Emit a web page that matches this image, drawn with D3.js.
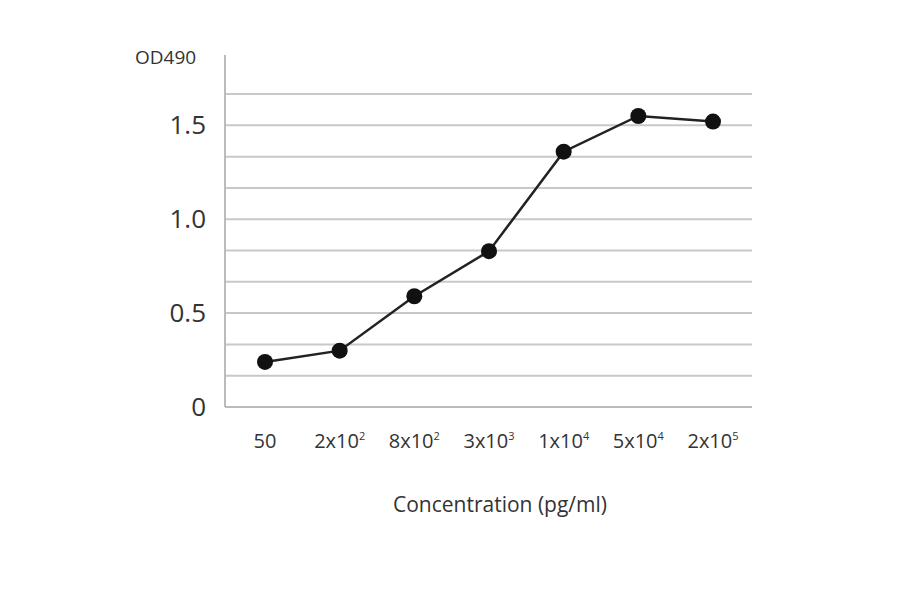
<!DOCTYPE html>
<html>
<head>
<meta charset="utf-8">
<script src="https://cdn.jsdelivr.net/npm/d3@7"></script>
<style>
  body { margin: 0; background: #fff; }
  text { font-family: "Liberation Sans Narrow", "Open Sans", "DejaVu Sans", sans-serif; fill: #333; }
</style>
</head>
<body>
<div id="chart"></div>
<script>
// data
var categories = [["50", ""], ["2x10", "2"], ["8x10", "2"], ["3x10", "3"], ["1x10", "4"], ["5x10", "4"], ["2x10", "5"]];
var od490 = [0.24, 0.30, 0.59, 0.83, 1.36, 1.55, 1.52];
var yTicks = [0, 0.5, 1.0, 1.5];

var svg = d3.select('#chart').append('svg')
    .attr('width', 900)
    .attr('height', 594);

var x = d3.scalePoint()
    .domain(d3.range(categories.length))
    .range([265, 713]);

var y = d3.scaleLinear()
    .domain([0, 1.667])
    .range([407, 94]);

// gridlines every 1/6
var grid = d3.range(1, 11).map(i => i / 6);
svg.selectAll('.grid')
    .data(grid)
    .enter()
    .append('line')
    .attr('x1', 225).attr('x2', 752)
    .attr('y1', d => y(d)).attr('y2', d => y(d))
    .attr('stroke', '#c8c8c8')
    .attr('stroke-width', 2);

// axes lines
svg.append('line')
    .attr('x1', 225).attr('x2', 225)
    .attr('y1', 55).attr('y2', y(0))
    .attr('stroke', '#bbb').attr('stroke-width', 2);
svg.append('line')
    .attr('x1', 225).attr('x2', 752)
    .attr('y1', y(0)).attr('y2', y(0))
    .attr('stroke', '#bbb').attr('stroke-width', 2);

// y tick labels
svg.selectAll('.ylab')
    .data(yTicks)
    .enter()
    .append('text')
    .attr('x', 206)
    .attr('y', d => y(d) + 9)
    .attr('text-anchor', 'end')
    .attr('font-size', 26)
    .text(d => d === 0 ? '0' : d.toFixed(1));

svg.append('text')
    .attr('x', 135).attr('y', 64)
    .attr('font-size', 19)
    .text('OD490');

// x tick labels with superscripts
var xl = svg.selectAll('.xlab')
    .data(categories)
    .enter()
    .append('text')
    .attr('x', (d, i) => x(i))
    .attr('y', 448)
    .attr('text-anchor', 'middle')
    .attr('font-size', 20);
xl.append('tspan').text(d => d[0]);
xl.append('tspan')
    .attr('dy', -8)
    .attr('font-size', 11)
    .text(d => d[1]);

svg.append('text')
    .attr('x', 500).attr('y', 512)
    .attr('text-anchor', 'middle')
    .attr('font-size', 21)
    .text('Concentration (pg/ml)');

// line + points
var line = d3.line()
    .x((d, i) => x(i))
    .y(d => y(d));
svg.append('path')
    .datum(od490)
    .attr('d', line)
    .attr('fill', 'none')
    .attr('stroke', '#222')
    .attr('stroke-width', 2.5);
svg.selectAll('circle')
    .data(od490)
    .enter()
    .append('circle')
    .attr('cx', (d, i) => x(i))
    .attr('cy', d => y(d))
    .attr('r', 8)
    .attr('fill', '#111');
</script>
</body>
</html>
